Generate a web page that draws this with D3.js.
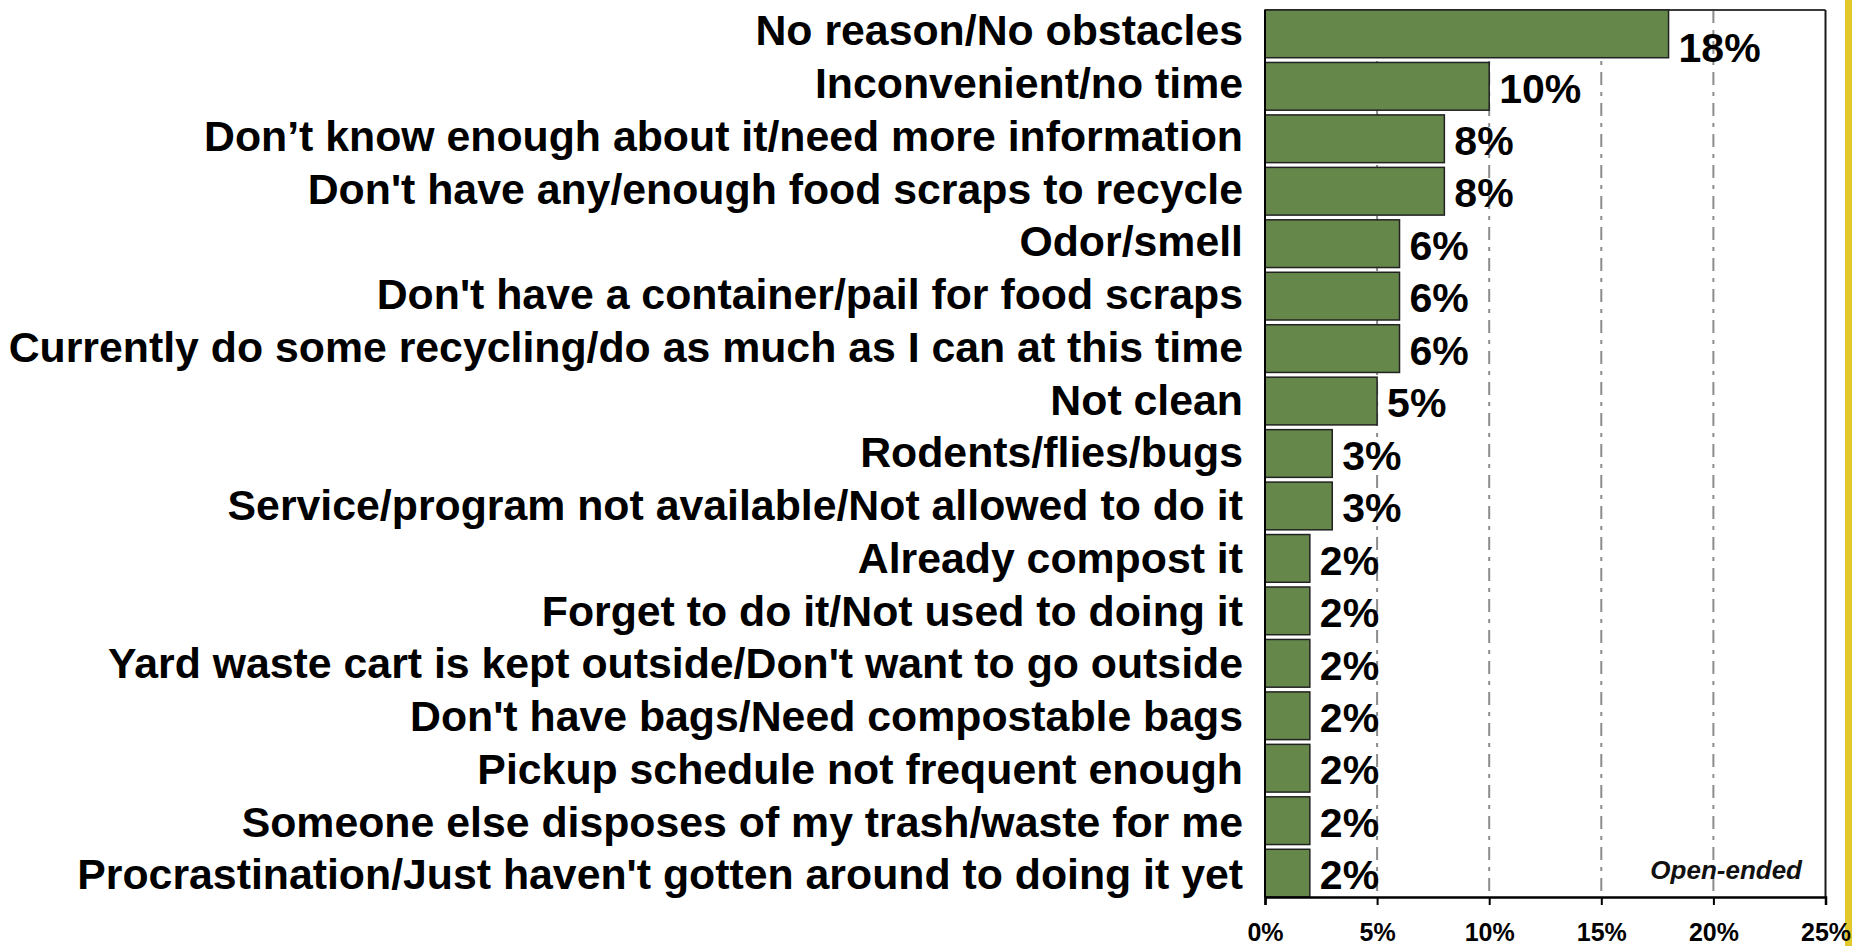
<!DOCTYPE html>
<html>
<head>
<meta charset="utf-8">
<script src="https://cdn.jsdelivr.net/npm/d3@7"></script>
<style>
  html, body { margin: 0; padding: 0; background: #ffffff; }
  svg { display: block; }
</style>
</head>
<body>
<svg id="chart" width="1852" height="946"></svg>
<script>
const categories = [
  "No reason/No obstacles",
  "Inconvenient/no time",
  "Don\u2019t know enough about it/need more information",
  "Don't have any/enough food scraps to recycle",
  "Odor/smell",
  "Don't have a container/pail for food scraps",
  "Currently do some recycling/do as much as I can at this time",
  "Not clean",
  "Rodents/flies/bugs",
  "Service/program not available/Not allowed to do it",
  "Already compost it",
  "Forget to do it/Not used to doing it",
  "Yard waste cart is kept outside/Don't want to go outside",
  "Don't have bags/Need compostable bags",
  "Pickup schedule not frequent enough",
  "Someone else disposes of my trash/waste for me",
  "Procrastination/Just haven't gotten around to doing it yet"
];
const values = [18, 10, 8, 8, 6, 6, 6, 5, 3, 3, 2, 2, 2, 2, 2, 2, 2];
const tickValues = [0, 5, 10, 15, 20, 25];
const noteText = "Open-ended";

const svg = d3.select("#chart");
const pLeft = 1265, pRight = 1825.5, pTop = 10, pBottom = 897;

const x = d3.scaleLinear().domain([0, 25]).range([pLeft, pRight]);
const y = d3.scaleBand().domain(categories).range([pTop, pBottom])
  .paddingInner(0.09).paddingOuter(0);
const yLabel = d3.scalePoint().domain(categories).range([30, 874]);

// yellow strip at right edge
svg.append("rect").attr("x", 1845).attr("y", 0).attr("width", 7).attr("height", 946)
  .attr("fill", "#E3C82C");

// gridlines
svg.append("g").selectAll("line").data(tickValues.filter(t => t > 0 && t < 25)).join("line")
  .attr("x1", d => x(d)).attr("x2", d => x(d))
  .attr("y1", pTop).attr("y2", pBottom)
  .attr("stroke", "#8c8c8c").attr("stroke-width", 2)
  .attr("stroke-dasharray", "13,7,4,7");

// frame top and right
svg.append("line").attr("x1", pLeft).attr("x2", pRight).attr("y1", pTop).attr("y2", pTop)
  .attr("stroke", "#3a3a3a").attr("stroke-width", 2);
svg.append("line").attr("x1", pRight).attr("x2", pRight).attr("y1", pTop).attr("y2", pBottom)
  .attr("stroke", "#1a1a1a").attr("stroke-width", 2);

// bars
svg.append("g").selectAll("rect").data(values).join("rect")
  .attr("x", x(0))
  .attr("y", (d, i) => y(categories[i]))
  .attr("width", d => x(d) - x(0))
  .attr("height", y.bandwidth())
  .attr("fill", "#65874A")
  .attr("stroke", "#222222").attr("stroke-width", 1.5);

// x axis
const xAxis = d3.axisBottom(x).tickValues(tickValues).tickSize(8).tickPadding(0)
  .tickFormat(d => d + "%");
const gx = svg.append("g").attr("transform", `translate(0,${pBottom})`).call(xAxis);
gx.select(".domain").attr("stroke", "#000").attr("stroke-width", 2.5);
gx.selectAll(".tick line").attr("stroke", "#000").attr("stroke-width", 2);
gx.selectAll(".tick text")
  .attr("y", 44).attr("dy", null)
  .attr("font-family", "Liberation Sans, Arial, sans-serif")
  .attr("font-weight", "bold").attr("font-size", 25).attr("fill", "#000");

// left axis line
svg.append("line").attr("x1", pLeft).attr("x2", pLeft).attr("y1", pTop).attr("y2", pBottom)
  .attr("stroke", "#000").attr("stroke-width", 2);

// category labels
svg.append("g").selectAll("text").data(categories).join("text")
  .attr("x", 1243)
  .attr("y", d => yLabel(d))
  .attr("dy", "0.36em")
  .attr("text-anchor", "end")
  .attr("font-family", "Liberation Sans, Arial, sans-serif")
  .attr("font-weight", "bold").attr("font-size", 42.8).attr("fill", "#000")
  .text(d => d);

// value labels
svg.append("g").selectAll("text").data(values).join("text")
  .attr("x", d => x(d) + 10)
  .attr("y", (d, i) => Math.max(y(categories[i]) + y.bandwidth() / 2 + 1.5, pTop + 37))
  .attr("dy", "0.36em")
  .attr("font-family", "Liberation Sans, Arial, sans-serif")
  .attr("font-weight", "bold").attr("font-size", 41).attr("fill", "#000")
  .text(d => d + "%");

// note
svg.append("text")
  .attr("x", 1802).attr("y", 879)
  .attr("text-anchor", "end")
  .attr("font-family", "Liberation Sans, Arial, sans-serif")
  .attr("font-weight", "bold").attr("font-style", "italic").attr("font-size", 26)
  .attr("fill", "#111")
  .text(noteText);
</script>
</body>
</html>
